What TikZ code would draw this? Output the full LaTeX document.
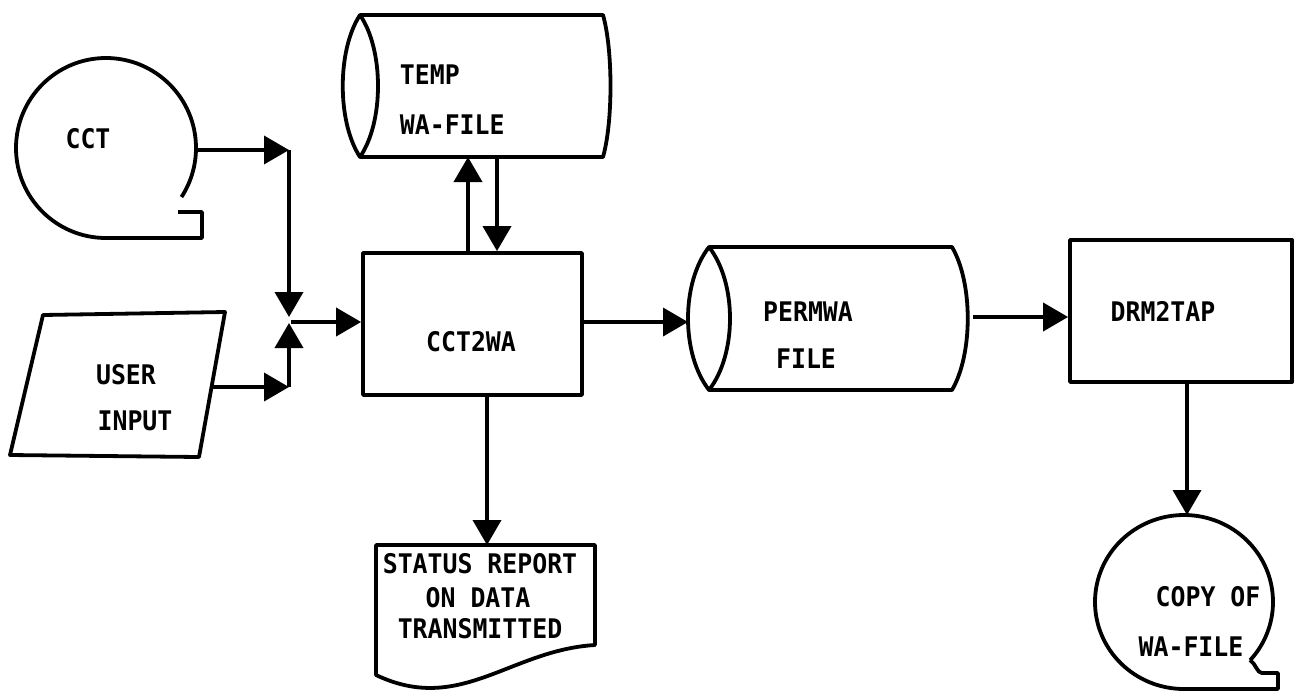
\documentclass[tikz,border=0pt]{standalone}
\usepackage{fontspec}
\newfontfamily\chartfont[FakeStretch=0.92]{DejaVu Sans Mono}
\usetikzlibrary{arrows.meta}
\begin{document}
\begin{tikzpicture}[x=1pt,y=-1pt,line width=3.8pt,line join=round,
  flow/.style={-{Triangle[length=25pt,width=28pt]}},
  lbl/.style={font=\fontsize{27}{30}\chartfont\bfseries,inner sep=0pt,
    text height=19.7pt,text depth=0pt},
  procbox/.style={draw,rectangle,inner sep=0pt,minimum width=#1,minimum height=142pt},
  procbox/.default=220pt]
\useasboundingbox (0,0) rectangle (1298,694);

% ---- CCT tape reel
\draw (178,212) -- (202,212) -- (202,238) -- (106,238)
      arc[start angle=90,end angle=393,radius=90];
\node[lbl] (cct) at (88,139) {CCT};
\coordinate (cctE) at (196,150);

% ---- user input (parallelogram)
\draw (43,315) -- (225,312) -- (199,457) -- (10,455) -- cycle;
\node[lbl] (user1) at (126,375) {USER};
\node[lbl] (user2) at (135,421) {INPUT};
\coordinate (userE) at (212,387);

% ---- temporary work-area file (drum)
\draw (360,15) .. controls (337,50) and (337,122) .. (360,157)
      .. controls (384,122) and (384,50) .. (360,15)
      -- (603,15) .. controls (613,50) and (613,122) .. (603,157) -- (360,157);
\node[lbl,anchor=west] (temp1) at (398,75) {TEMP};
\node[lbl,anchor=west] (temp2) at (398,125) {WA-FILE};
\coordinate (tempUp) at (468,157);
\coordinate (tempDn) at (497,157);

% ---- CCT2WA process
\node[procbox=219pt] (cctwa) at (472.5,324) {};
\node[lbl] (cctwaT) at (471,342) {CCT2WA};

% ---- merging junction
\coordinate (jTop) at (289,150);
\coordinate (jBot) at (289,387);
\coordinate (jDn) at (289,317);
\coordinate (jUp) at (289,323);
\coordinate (jOut) at (291,322);

% ---- status report (document)
\draw (376,545) -- (595,545) -- (595,645)
      .. controls (510,650) and (460,715) .. (376,675) -- cycle;
\node[lbl] (rep1) at (480,564) {STATUS REPORT};
\node[lbl] (rep2) at (478,598) {ON DATA};
\node[lbl] (rep3) at (480,629) {TRANSMITTED};
\coordinate (repN) at (487,545);

% ---- permanent work-area file (drum)
\draw (709,247) .. controls (681,283) and (681,354) .. (709,390)
      .. controls (737,354) and (737,283) .. (709,247)
      -- (952,247) .. controls (973,283) and (973,354) .. (952,390) -- (709,390);
\node[lbl] (perm1) at (808,312) {PERMWA};
\node[lbl] (perm2) at (806,359) {FILE};
\coordinate (permW) at (688,322);
\coordinate (permE) at (973,317);

% ---- DRM2TAP process
\node[procbox=222pt] (drm) at (1181,311) {};
\node[lbl] (drmT) at (1163,312) {DRM2TAP};

% ---- output tape reel
\draw (1250,660) .. controls (1256,664) and (1257,673) .. (1262,673)
      -- (1278,673) -- (1278,689) -- (1184,689)
      arc[start angle=90,end angle=402,x radius=89,y radius=87];
\node[lbl] (copy1) at (1208,597) {COPY OF};
\node[lbl] (copy2) at (1191,647) {WA-FILE};
\coordinate (copyN) at (1187,515);

% ---- connectors
\draw[flow] (cctE) -- (jTop);
\draw[flow] (jTop) -- (jDn);
\draw[flow] (userE) -- (jBot);
\draw[flow] (jBot) -- (jUp);
\draw[flow] (jOut) -- (jOut -| cctwa.west);
\draw[flow] (cctwa.north -| tempUp) -- (tempUp);
\draw[flow] (tempDn) -- (cctwa.north -| tempDn);
\draw[flow] (cctwa.south -| repN) -- (repN);
\draw[flow] (permW -| cctwa.east) -- (permW);
\draw[flow] (permE) -- (permE -| drm.west);
\draw[flow] (drm.south -| copyN) -- (copyN);
\end{tikzpicture}
\end{document}
